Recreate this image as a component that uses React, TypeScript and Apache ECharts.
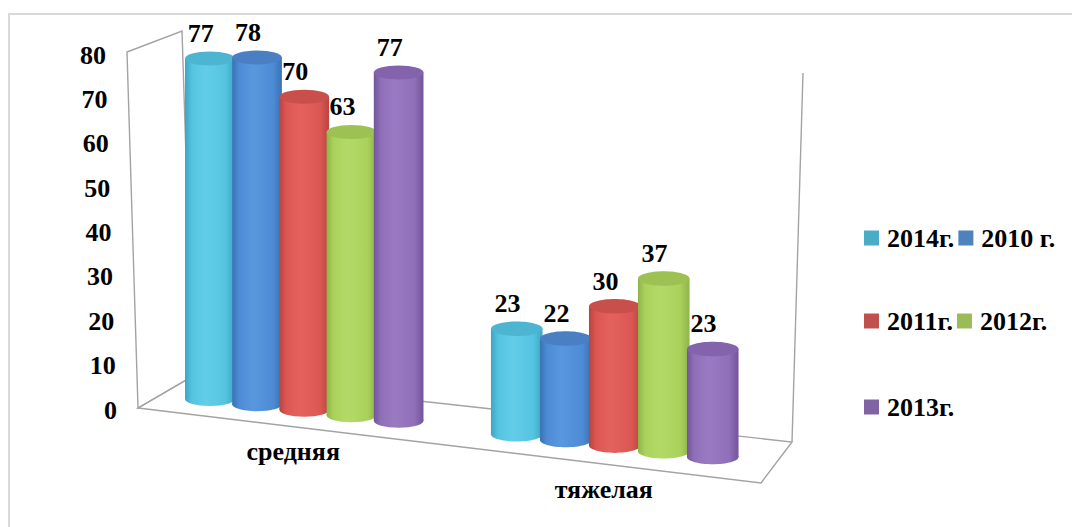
import React, { useEffect, useRef } from "react";
import * as echarts from "echarts";

// ---- data ----
const categories = ["средняя", "тяжелая"];
const seriesNames = ["2014г.", "2010 г.", "2011г.", "2012г.", "2013г."];
const values2014 = [77, 23];
const values2010 = [78, 22];
const values2011 = [70, 30];
const values2012 = [63, 37];
const values2013 = [77, 23];
const yMin = 0;
const yMax = 80;
const yStep = 10;

const seriesValues = [values2014, values2010, values2011, values2012, values2013];

// ---- cylinder palette (legend swatch, body base, highlight, edge shade, top cap) ----
const palette = [
  { legend: "#4BACC6", base: "#55C4E1", light: "#62CDE9", dark: "#3CA5C4", top: "#4DB4D2" },
  { legend: "#4F81BD", base: "#4D8CD5", light: "#5998DE", dark: "#3A71B3", top: "#4A80C3" },
  { legend: "#C0504D", base: "#DC5753", light: "#E4625E", dark: "#BA4340", top: "#C94F4B" },
  { legend: "#9BBB59", base: "#A9D25C", light: "#B3DA67", dark: "#8EB447", top: "#9DC152" },
  { legend: "#8064A2", base: "#8F6FB8", light: "#9A7BC2", dark: "#73559A", top: "#8363AC" },
];

// ---- perspective of the floor plane (screen space) ----
const FLOOR_X0 = 210.5;
const FLOOR_Y0 = 399;
const FLOOR_SLOPE = 0.1153;
const PPU0 = 4.42;
const PPU_SLOPE = 0.00055;
const floorY = (x: number) => FLOOR_Y0 + FLOOR_SLOPE * (x - FLOOR_X0);
const unitPx = (x: number) => PPU0 + PPU_SLOPE * (x - FLOOR_X0);

const FONT = "'Liberation Serif', 'Times New Roman', serif";
const FONT_SIZE = 26;
const FRAME = "#A3A3A3";

function cylinderRenderer(sIdx: number) {
  return (params: any, api: any) => {
    const cat = api.value(0);
    const val = api.value(1);
    const band = api.size([1, 0])[0];
    const base = api.coord([cat, 0]);
    const top = api.coord([cat, val]);
    const ten = api.coord([cat, 10]);
    const refX = api.coord([0, 0])[0];
    const axisUnit = (base[1] - ten[1]) / 10;
    const depth = unitPx(base[0]) / unitPx(refX);
    const cx = base[0] + (sIdx - 2) * band * 0.152 * depth;
    const w = band * 0.16 * depth;
    const h = (base[1] - top[1]) * (unitPx(cx) / axisUnit);
    const by = floorY(cx);
    const ty = by - h;
    const ry = 7 * depth;
    const c = palette[sIdx];
    const bodyFill = new echarts.graphic.LinearGradient(0, 0, 1, 0, [
      { offset: 0, color: c.dark },
      { offset: 0.14, color: c.base },
      { offset: 0.42, color: c.light },
      { offset: 0.82, color: c.base },
      { offset: 1, color: c.dark },
    ]);
    return {
      type: "group",
      children: [
        {
          type: "ellipse",
          shape: { cx, cy: by, rx: w / 2, ry },
          style: { fill: bodyFill },
        },
        {
          type: "rect",
          shape: { x: cx - w / 2, y: ty, width: w, height: by - ty },
          style: { fill: bodyFill },
        },
        {
          type: "ellipse",
          shape: { cx, cy: ty, rx: w / 2, ry },
          style: { fill: c.top },
        },
        {
          type: "text",
          z2: 10,
          style: {
            text: String(val),
            x: cx - 9 * depth,
            y: ty - ry - 5,
            align: "center",
            verticalAlign: "bottom",
            fill: "#000",
            font: `bold ${FONT_SIZE}px ${FONT}`,
          },
        },
      ],
    };
  };
}

const yLabelRich: Record<string, any> = {};
for (let v = yMin; v <= yMax; v += yStep) {
  yLabelRich["t" + v] = {
    fontSize: FONT_SIZE,
    fontWeight: "bold",
    fontFamily: FONT,
    color: "#000",
    padding: [0, (11 * v) / yMax, 0, 0],
  };
}

const legendText = {
  fontSize: FONT_SIZE,
  fontWeight: "bold" as const,
  fontFamily: FONT,
  color: "#000",
  padding: [0, 0, 0, 3],
};

function legendRow(names: string[], top: number) {
  return {
    data: names,
    left: 859,
    top,
    orient: "horizontal",
    icon: "rect",
    itemWidth: 15,
    itemHeight: 15,
    itemGap: 4,
    textStyle: legendText,
    selectedMode: false,
  };
}

const catRich = (padTop: number) => ({
  fontSize: FONT_SIZE,
  fontWeight: "bold",
  fontFamily: FONT,
  color: "#000",
  padding: [padTop, 22, 0, 0],
});

export default function App() {
  const ref = useRef<HTMLDivElement>(null);

  useEffect(() => {
    document.body.style.margin = "0";
    const chart = echarts.init(ref.current!, null, { renderer: "svg" });
    const option: any = {
      animation: false,
      backgroundColor: "#fff",
      grid: { left: 149, right: 302, top: 55, bottom: 117 },
      xAxis: {
        type: "category",
        data: categories,
        boundaryGap: true,
        axisLine: { show: false },
        axisTick: { show: false },
        splitLine: { show: false },
        axisLabel: {
          margin: 8,
          formatter: (val: string, idx: number) => `{c${idx}|${val}}`,
          rich: { c0: catRich(20), c1: catRich(58) },
        },
      },
      yAxis: {
        type: "value",
        min: yMin,
        max: yMax,
        interval: yStep,
        axisLine: { show: false },
        axisTick: { show: false },
        splitLine: { show: false },
        axisLabel: {
          margin: 32,
          formatter: (v: number) => `{t${v}|${v}}`,
          rich: yLabelRich,
        },
      },
      legend: [
        legendRow([seriesNames[0], seriesNames[1]], 220),
        legendRow([seriesNames[2], seriesNames[3]], 303),
        legendRow([seriesNames[4]], 389),
      ],
      graphic: [
        {
          type: "rect",
          shape: { x: 9, y: 14, width: 1080, height: 540 },
          style: { fill: "none", stroke: "#D9D9D9", lineWidth: 2 },
          silent: true,
        },
        // side wall
        {
          type: "polygon",
          shape: { points: [[127, 52], [182, 31], [193, 376], [138, 408]] },
          style: { fill: "none", stroke: FRAME, lineWidth: 1.4 },
          silent: true,
        },
        // floor
        {
          type: "polygon",
          shape: { points: [[138, 408], [761, 483], [792, 442], [193, 376]] },
          style: { fill: "none", stroke: FRAME, lineWidth: 1.4 },
          silent: true,
        },
        // back wall edge
        {
          type: "line",
          shape: { x1: 792, y1: 442, x2: 803, y2: 73 },
          style: { stroke: FRAME, lineWidth: 1.4 },
          silent: true,
        },
      ],
      series: seriesNames.map((name, sIdx) => ({
        name,
        type: "custom",
        coordinateSystem: "cartesian2d",
        clip: false,
        z: 2 + sIdx,
        itemStyle: { color: palette[sIdx].legend },
        encode: { x: 0, y: 1 },
        data: seriesValues[sIdx].map((v, i) => [i, v]),
        renderItem: cylinderRenderer(sIdx),
      })),
    };
    chart.setOption(option);
    return () => chart.dispose();
  }, []);

  return <div ref={ref} style={{ width: 1072, height: 527 }} />;
}
